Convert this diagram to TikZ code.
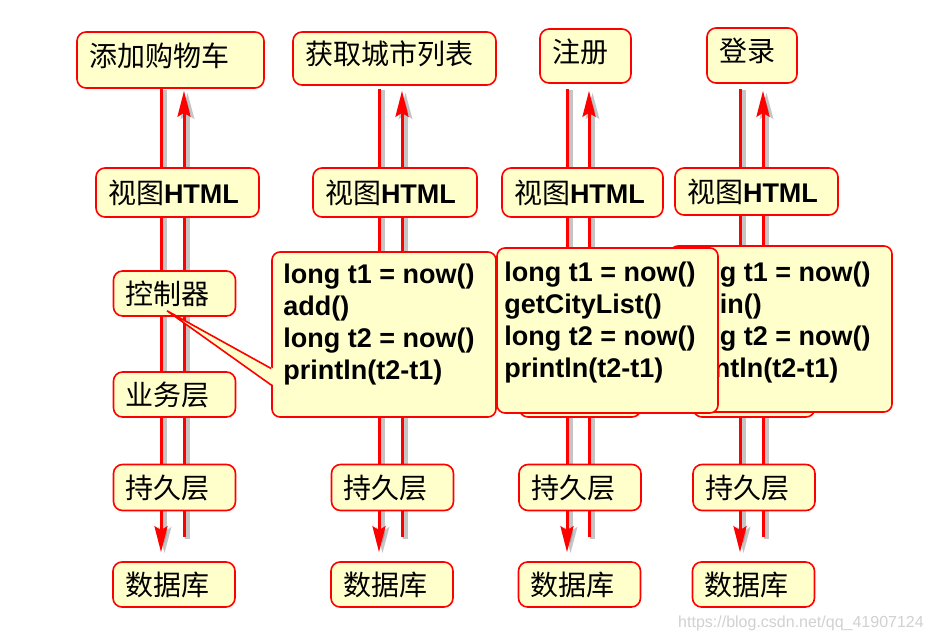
\documentclass[tikz,border=0pt]{standalone}
\usepackage{fontspec}
\setmainfont{Liberation Sans}
\newfontfamily\zhfont{Noto Sans CJK SC}
\usetikzlibrary{arrows.meta,backgrounds}
\definecolor{boxfill}{HTML}{FFFFCC}
\definecolor{boxred}{HTML}{FF0000}
\newcommand\latin[1]{{\rmfamily\bfseries\fontsize{27pt}{27pt}\selectfont #1}}

\begin{document}
\begin{tikzpicture}[x=1pt,y=-1pt,
  layer/.style={draw=boxred,fill=boxfill,line width=1.6pt,rounded corners=9pt,inner xsep=12pt,inner ysep=0pt,
    align=left,text height=23pt,text depth=2pt,font=\zhfont\fontsize{28pt}{28pt}\selectfont},
  usecase/.style={layer,text depth=10pt},
  callout/.style={draw=boxred,fill=boxfill,line width=1.6pt,rounded corners=8pt,inner sep=0pt},
  code/.style={anchor=north west,inner sep=0pt,align=left,font=\bfseries\fontsize{27pt}{32pt}\selectfont},
  flow/.style={draw=boxred,line width=3pt},
  flowshadow/.style={draw=black!50,line width=5pt,opacity=.45,transform canvas={shift={(3.5pt,-1.5pt)}}},
  tip/.style={-{Stealth[length=26pt,width=13pt,inset=4pt]}},
  watermark/.style={text=black!18,font=\fontsize{16pt}{16pt}\selectfont,inner sep=0pt}]
  \useasboundingbox (0,0) rectangle (932,642);

  \node[usecase,text width=163pt,minimum height=56pt] (top1) at (170.5,60) {添加购物车};
  \node[usecase,text width=179pt,minimum height=53pt] (top2) at (394.5,58.5) {获取城市列表};
  \node[usecase,text width=67pt,minimum height=54pt] (top3) at (585.5,56) {注册};
  \node[usecase,text width=66pt,minimum height=55pt] (top4) at (752,55.5) {登录};

  \node[layer,text width=139pt,minimum height=49pt] (html1) at (177.5,192.5) {视图\latin{HTML}};
  \node[layer,text width=140pt,minimum height=49pt] (html2) at (395,192.5) {视图\latin{HTML}};
  \node[layer,text width=137pt,minimum height=49pt] (html3) at (582.5,192.5) {视图\latin{HTML}};
  \node[layer,text width=139pt,minimum height=47pt] (html4) at (756.5,191.5) {视图\latin{HTML}};

  \node[layer,text width=98pt,minimum height=45pt] (ctrl1) at (174.5,293.5) {控制器};
  \node[layer,text width=98pt,minimum height=45pt] (svc1) at (174.5,394.5) {业务层};
  \foreach \i/\x in {2/392.5,3/580,4/754}
    \node[layer,text width=98pt,minimum height=45pt] (svc\i) at (\x,394.5) {};
  \foreach \i/\x in {1/174.5,2/392.5,3/580,4/754} {
    \node[layer,text width=98pt,minimum height=46pt] (dao\i) at (\x,487.5) {持久层};
    \node[layer,text width=98pt,minimum height=45pt] (db\i) at (\x-0.5,584.5) {数据库};
  }

  \begin{scope}[on background layer]
    \fill[white] (0,0) rectangle (932,642);
    \foreach \i/\a/\b/\g/\h in {1/161/184/0pt/2pt,2/379/402/3pt/5pt,3/567/589/5pt/7pt,4/740/763/5pt/7pt} {
      \coordinate (xl\i) at (\a,0);
      \coordinate (xr\i) at (\b,0);
      \draw[flowshadow,tip,shorten <=\g,shorten >=9pt] (top\i.south -| xl\i) -- (db\i.north -| xl\i);
      \draw[flowshadow,tip,shorten <=24pt,shorten >=\h] (db\i.north -| xr\i) -- (top\i.south -| xr\i);
      \draw[flow,tip,shorten <=\g,shorten >=9pt] (top\i.south -| xl\i) -- (db\i.north -| xl\i);
      \draw[flow,tip,shorten <=24pt,shorten >=\h] (db\i.north -| xr\i) -- (top\i.south -| xr\i);
    }
  \end{scope}

  \node[callout,minimum width=222pt,minimum height=166pt] (code4) at (781,329) {};
  \node[code] (code4txt) at ([xshift=10pt,yshift=-17pt]code4.north west) {long t1 = now()\\login()\\long t2 = now()\\println(t2-t1)};
  \node[callout,minimum width=221pt,minimum height=165pt] (code3) at (607.5,330.5) {};
  \node[code] (code3txt) at ([xshift=8pt,yshift=-15pt]code3.north west) {long t1 = now()\\getCityList()\\long t2 = now()\\println(t2-t1)};
  \node[callout,minimum width=224pt,minimum height=165pt] (code2) at (384,334.5) {};
  \node[code] (code2txt) at ([xshift=12pt,yshift=-13pt]code2.north west) {long t1 = now()\\add()\\long t2 = now()\\println(t2-t1)};

  \coordinate (ptip) at ([xshift=-7.5pt,yshift=6pt]ctrl1.south);
  \coordinate (pa) at ([yshift=-34pt]code2.west);
  \coordinate (pb) at ([yshift=-50.5pt]code2.west);
  \fill[boxfill] (ptip) -- ([xshift=2pt]pa) -- ([xshift=2pt]pb) -- cycle;
  \draw[boxred,line width=1.6pt] (pa) -- (ptip) -- (pb);

  \node[watermark] (wm) at (801,623.5) {https://blog.csdn.net/qq\_41907124};
\end{tikzpicture}
\end{document}
